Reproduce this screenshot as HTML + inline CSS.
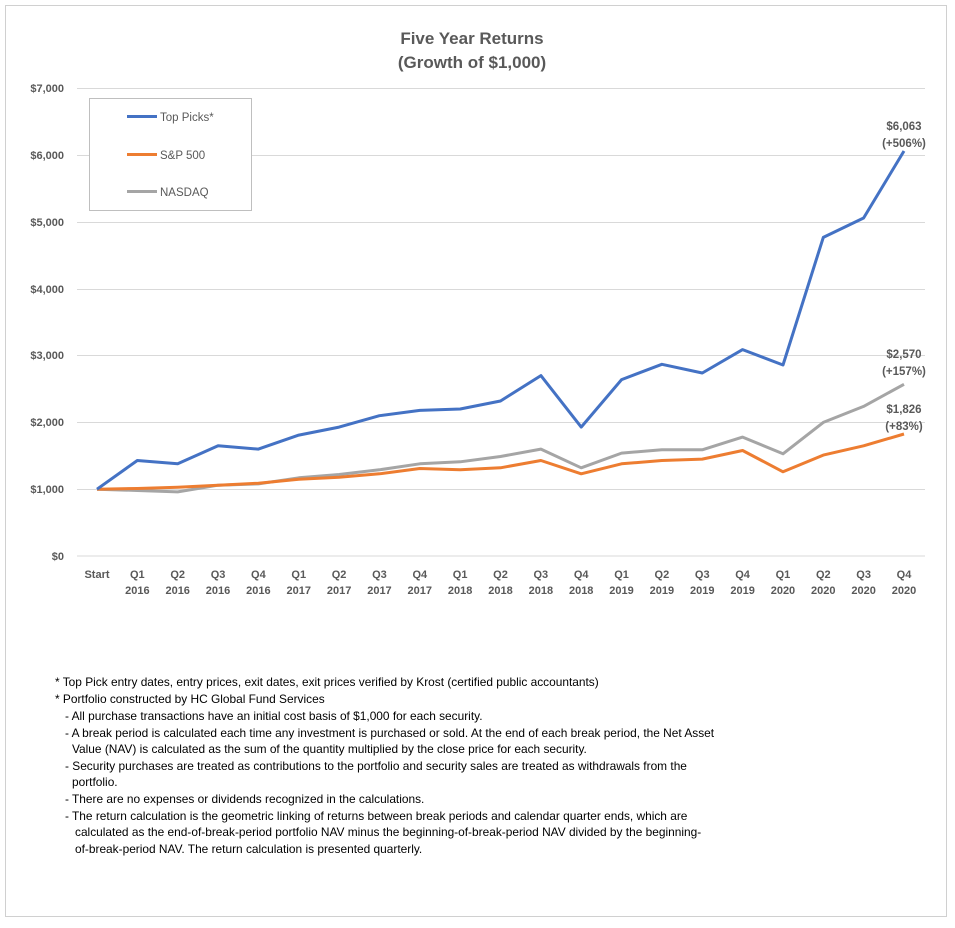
<!DOCTYPE html>
<html><head><meta charset="utf-8"><style>
body{margin:0;background:#fff;}
svg text{font-family:"Liberation Sans",sans-serif;}
</style></head><body>
<svg width="955" height="923" viewBox="0 0 955 923" xmlns="http://www.w3.org/2000/svg">
<rect x="0" y="0" width="955" height="923" fill="#fff"/>
<rect x="5.5" y="5.5" width="941" height="911" fill="none" stroke="#d0d0d0" stroke-width="1"/>
<text x="472" y="44" text-anchor="middle" font-size="17" font-weight="bold" fill="#595959">Five Year Returns</text>
<text x="472" y="68" text-anchor="middle" font-size="17" font-weight="bold" fill="#595959">(Growth of $1,000)</text>
<g stroke="#d9d9d9" stroke-width="1">
<line x1="77" x2="925" y1="88.5" y2="88.5"/><line x1="77" x2="925" y1="155.5" y2="155.5"/>
<line x1="77" x2="925" y1="222.5" y2="222.5"/><line x1="77" x2="925" y1="289.5" y2="289.5"/>
<line x1="77" x2="925" y1="355.5" y2="355.5"/><line x1="77" x2="925" y1="422.5" y2="422.5"/>
<line x1="77" x2="925" y1="489.5" y2="489.5"/><line x1="77" x2="925" y1="556" y2="556"/>
</g>
<g font-size="11" font-weight="bold" fill="#595959" text-anchor="end">
<text x="64" y="92">$7,000</text><text x="64" y="159">$6,000</text><text x="64" y="226">$5,000</text>
<text x="64" y="293">$4,000</text><text x="64" y="359">$3,000</text><text x="64" y="426">$2,000</text>
<text x="64" y="493">$1,000</text><text x="64" y="560">$0</text>
</g>
<g id="xl" font-size="11" font-weight="bold" fill="#595959" text-anchor="middle"></g>
<polyline id="nas" fill="none" stroke="#a5a5a5" stroke-width="3" stroke-linejoin="round"/>
<polyline id="sp" fill="none" stroke="#ed7d31" stroke-width="3" stroke-linejoin="round"/>
<polyline id="top" fill="none" stroke="#4472c4" stroke-width="3" stroke-linejoin="round"/>
<g font-size="11.5" font-weight="bold" fill="#595959" text-anchor="middle">
<text x="904" y="130">$6,063</text><text x="904" y="147">(+506%)</text>
<text x="904" y="358">$2,570</text><text x="904" y="375">(+157%)</text>
<text x="904" y="413">$1,826</text><text x="904" y="430">(+83%)</text>
</g>
<rect x="89.5" y="98.5" width="162" height="112" fill="#fff" stroke="#bfbfbf"/>
<g stroke-width="3"><line x1="127" x2="157" y1="116.5" y2="116.5" stroke="#4472c4"/>
<line x1="127" x2="157" y1="154.5" y2="154.5" stroke="#ed7d31"/>
<line x1="127" x2="157" y1="191.5" y2="191.5" stroke="#a5a5a5"/></g>
<g font-size="11.5" fill="#595959"><text x="160" y="121">Top Picks*</text><text x="160" y="159">S&amp;P 500</text><text x="160" y="196">NASDAQ</text></g>
<g font-size="11.9" fill="#000">
<text x="55" y="686">* Top Pick entry dates, entry prices, exit dates, exit prices verified by Krost (certified public accountants)</text>
<text x="55" y="703">* Portfolio constructed by HC Global Fund Services</text>
<text x="65" y="720">- All purchase transactions have an initial cost basis of $1,000 for each security.</text>
<text x="65" y="737">- A break period is calculated each time any investment is purchased or sold. At the end of each break period, the Net Asset</text>
<text x="72" y="753">Value (NAV) is calculated as the sum of the quantity multiplied by the close price for each security.</text>
<text x="65" y="770">- Security purchases are treated as contributions to the portfolio and security sales are treated as withdrawals from the</text>
<text x="72" y="786">portfolio.</text>
<text x="65" y="803">- There are no expenses or dividends recognized in the calculations.</text>
<text x="65" y="820">- The return calculation is the geometric linking of returns between break periods and calendar quarter ends, which are</text>
<text x="75" y="836">calculated as the end-of-break-period portfolio NAV minus the beginning-of-break-period NAV divided by the beginning-</text>
<text x="75" y="853">of-break-period NAV. The return calculation is presented quarterly.</text>
</g>
<script>
var top_=[1000,1430,1380,1650,1600,1810,1930,2100,2180,2200,2320,2700,1930,2640,2870,2740,3090,2860,4770,5060,6063];
var sp=[1000,1010,1030,1060,1090,1150,1180,1230,1310,1290,1320,1430,1230,1380,1430,1450,1580,1260,1510,1650,1826];
var nas=[1000,980,960,1060,1080,1170,1220,1290,1380,1410,1490,1600,1320,1540,1590,1590,1780,1530,2000,2240,2570];
function X(i){return 97+i*40.35;}function Y(v){return 556-v*0.0668;}
function pts(a){return a.map(function(v,i){return X(i).toFixed(1)+","+Y(v).toFixed(1);}).join(" ");}
document.getElementById("top").setAttribute("points",pts(top_));
document.getElementById("sp").setAttribute("points",pts(sp));
document.getElementById("nas").setAttribute("points",pts(nas));
var g=document.getElementById("xl"),ns="http://www.w3.org/2000/svg";
var labs=[["Start",""]];for(var y=2016;y<=2020;y++)for(var q=1;q<=4;q++)labs.push(["Q"+q,""+y]);
labs.forEach(function(l,i){for(var k=0;k<2;k++){if(!l[k])continue;var t=document.createElementNS(ns,"text");t.setAttribute("x",X(i));t.setAttribute("y",578+k*16);t.textContent=l[k];g.appendChild(t);}});
</script>
</svg>
</body></html>
